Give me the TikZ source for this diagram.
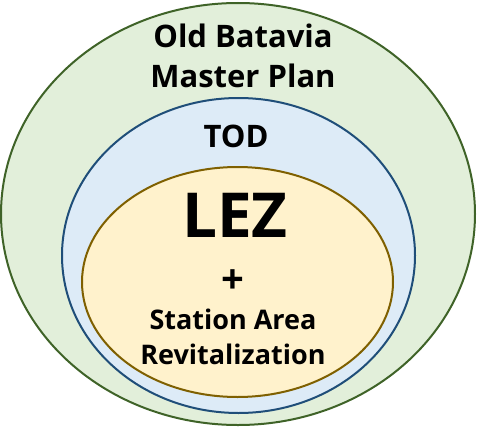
\documentclass[tikz,border=0pt]{standalone}
\usepackage{fontspec}
\setmainfont{Open Sans}
\usetikzlibrary{shapes.geometric,positioning}
\definecolor{oldfill}{HTML}{E2EFDA}
\definecolor{oldline}{HTML}{3F6328}
\definecolor{todfill}{HTML}{DDEBF7}
\definecolor{todline}{HTML}{1F4E79}
\definecolor{lezfill}{HTML}{FFF2CC}
\definecolor{lezline}{HTML}{7F6000}

\begin{document}
\begin{tikzpicture}[x=1pt,y=-1pt]
	\tikzstyle{zone}=[ellipse,draw,line width=2pt,inner sep=0pt]
	\tikzstyle{zonetext}=[font=\bfseries,align=center,inner sep=0pt,anchor=base]
	\useasboundingbox (0,0) rectangle (479,428);
		\node[zone,fill=oldfill,draw=oldline,minimum width=474pt,minimum height=422pt] (old) at (238,214) {};
		\node[zone,fill=todfill,draw=todline,minimum width=353pt,minimum height=315pt] (tod) at (238.5,255.5) {};
		\node[zone,fill=lezfill,draw=lezline,minimum width=311pt,minimum height=230pt] (lez) at (237.5,282) {};
		\node[zonetext,font=\bfseries\fontsize{31}{40}\selectfont] (plan) at (243,88) {Old Batavia\\Master Plan};
		\node[zonetext,font=\bfseries\fontsize{31}{36}\selectfont] (todtext) at (236,147) {TOD};
		\node[zonetext,font=\bfseries\fontsize{62}{70}\selectfont] (leztext) at (235,237) {LEZ};
		\node[zonetext,font=\bfseries\fontsize{40}{44}\selectfont] (plus) at (233,293) {+};
		\node[zonetext,font=\bfseries\fontsize{27}{35}\selectfont] (station) at (233,364) {Station Area\\Revitalization};
\end{tikzpicture}
\end{document}
